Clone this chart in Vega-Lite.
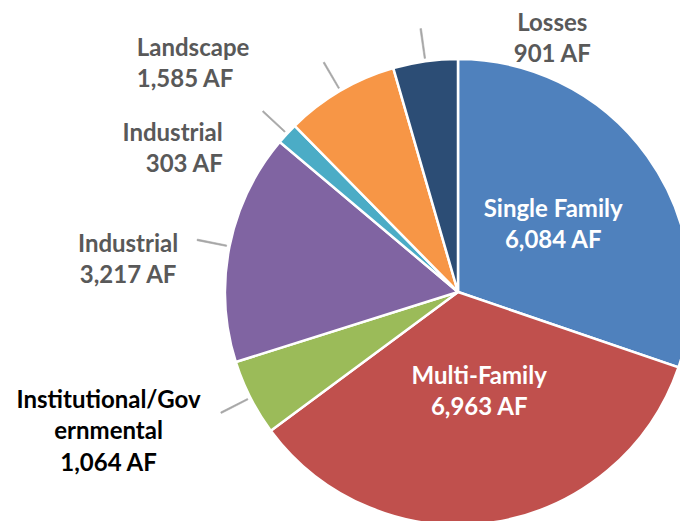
{
  "$schema": "https://vega.github.io/schema/vega-lite/v6.json",
  "width": 916,
  "height": 584,
  "autosize": {"type": "none"},
  "padding": 0,
  "background": "white",
  "config": {"view": {"stroke": null}, "text": {"font": "Lato", "fontWeight": "bold", "fontSize": 24, "lineHeight": 31.5, "baseline": "alphabetic", "lineBreak": "\n"}},
  "data": {"values": [
    {"key": "sf", "label": "Single Family", "value": 6084, "idx": 1},
    {"key": "mf", "label": "Multi-Family", "value": 6963, "idx": 2},
    {"key": "inst", "label": "Institutional/Gov\nernmental", "value": 1064, "idx": 3},
    {"key": "ind1", "label": "Industrial", "value": 3217, "idx": 4},
    {"key": "ind2", "label": "Industrial", "value": 303, "idx": 5},
    {"key": "land", "label": "Landscape", "value": 1585, "idx": 6},
    {"key": "loss", "label": "Losses", "value": 901, "idx": 7}
  ]},
  "transform": [{"calculate": "datum.label + '\\n' + format(datum.value, ',') + ' AF'", "as": "txt"}],
  "layer": [
    {
      "mark": {"type": "arc", "outerRadius": 233, "stroke": "white", "strokeWidth": 2.5},
      "encoding": {
        "theta": {"field": "value", "type": "quantitative", "stack": true},
        "order": {"field": "idx", "type": "quantitative"},
        "color": {"field": "key", "type": "nominal", "legend": null,
          "scale": {"domain": ["sf", "mf", "inst", "ind1", "ind2", "land", "loss"],
                    "range": ["#4F81BD", "#C0504D", "#9BBB59", "#8064A2", "#4BACC6", "#F79646", "#2C4D75"]}}
      }
    },
    {
      "transform": [
        {"window": [{"op": "sum", "field": "value", "as": "cum"}], "sort": [{"field": "idx"}], "frame": [null, 0]},
        {"joinaggregate": [{"op": "sum", "field": "value", "as": "tot"}]},
        {"calculate": "2*PI*(datum.cum - datum.value/2)/datum.tot - 0.003", "as": "a1"},
        {"calculate": "datum.a1 + 0.006", "as": "a2"},
        {"filter": "datum.idx >= 3"}
      ],
      "mark": {"type": "arc", "outerRadius": 266, "innerRadius": 236, "fill": "#A6A6A6", "stroke": "#A6A6A6", "strokeWidth": 0.6},
      "encoding": {
        "theta": {"field": "a1", "type": "quantitative", "scale": null, "stack": null},
        "theta2": {"field": "a2"}
      }
    },
    {
      "mark": {"type": "text", "radius": 117, "dy": -7, "align": "center", "fill": "white"},
      "encoding": {
        "theta": {"field": "value", "type": "quantitative", "stack": true},
        "order": {"field": "idx", "type": "quantitative"},
        "detail": {"field": "key"},
        "text": {"condition": {"test": "datum.key === 'sf'", "field": "txt"}, "value": ""}
      }
    },
    {
      "mark": {"type": "text", "radius": 99, "dx": 6, "dy": -6, "align": "center", "fill": "white"},
      "encoding": {
        "theta": {"field": "value", "type": "quantitative", "stack": true},
        "order": {"field": "idx", "type": "quantitative"},
        "detail": {"field": "key"},
        "text": {"condition": {"test": "datum.key === 'mf'", "field": "txt"}, "value": ""}
      }
    },
    {
      "mark": {"type": "text", "radius": 262, "dx": 131, "dy": -2, "align": "center", "fill": "#595959"},
      "encoding": {
        "theta": {"field": "value", "type": "quantitative", "stack": true},
        "order": {"field": "idx", "type": "quantitative"},
        "detail": {"field": "key"},
        "text": {"condition": {"test": "datum.key === 'loss'", "field": "txt"}, "value": ""}
      }
    },
    {
      "mark": {"type": "text", "radius": 262, "dx": -189, "dy": -10, "align": "left", "fill": "#595959"},
      "encoding": {
        "theta": {"field": "value", "type": "quantitative", "stack": true},
        "order": {"field": "idx", "type": "quantitative"},
        "detail": {"field": "key"},
        "text": {"condition": {"test": "datum.key === 'land'", "field": "txt"}, "value": ""}
      }
    },
    {
      "mark": {"type": "text", "radius": 262, "dx": -43, "dy": 27, "align": "right", "fill": "#595959"},
      "encoding": {
        "theta": {"field": "value", "type": "quantitative", "stack": true},
        "order": {"field": "idx", "type": "quantitative"},
        "detail": {"field": "key"},
        "text": {"condition": {"test": "datum.key === 'ind2'", "field": "txt"}, "value": ""}
      }
    },
    {
      "mark": {"type": "text", "radius": 262, "dx": -73, "dy": 11, "align": "center", "fill": "#595959"},
      "encoding": {
        "theta": {"field": "value", "type": "quantitative", "stack": true},
        "order": {"field": "idx", "type": "quantitative"},
        "detail": {"field": "key"},
        "text": {"condition": {"test": "datum.key === 'ind1'", "field": "txt"}, "value": ""}
      }
    },
    {
      "mark": {"type": "text", "radius": 262, "dx": -116, "dy": -3, "align": "center", "fill": "black"},
      "encoding": {
        "theta": {"field": "value", "type": "quantitative", "stack": true},
        "order": {"field": "idx", "type": "quantitative"},
        "detail": {"field": "key"},
        "text": {"condition": {"test": "datum.key === 'inst'", "field": "txt"}, "value": ""}
      }
    }
  ]
}
